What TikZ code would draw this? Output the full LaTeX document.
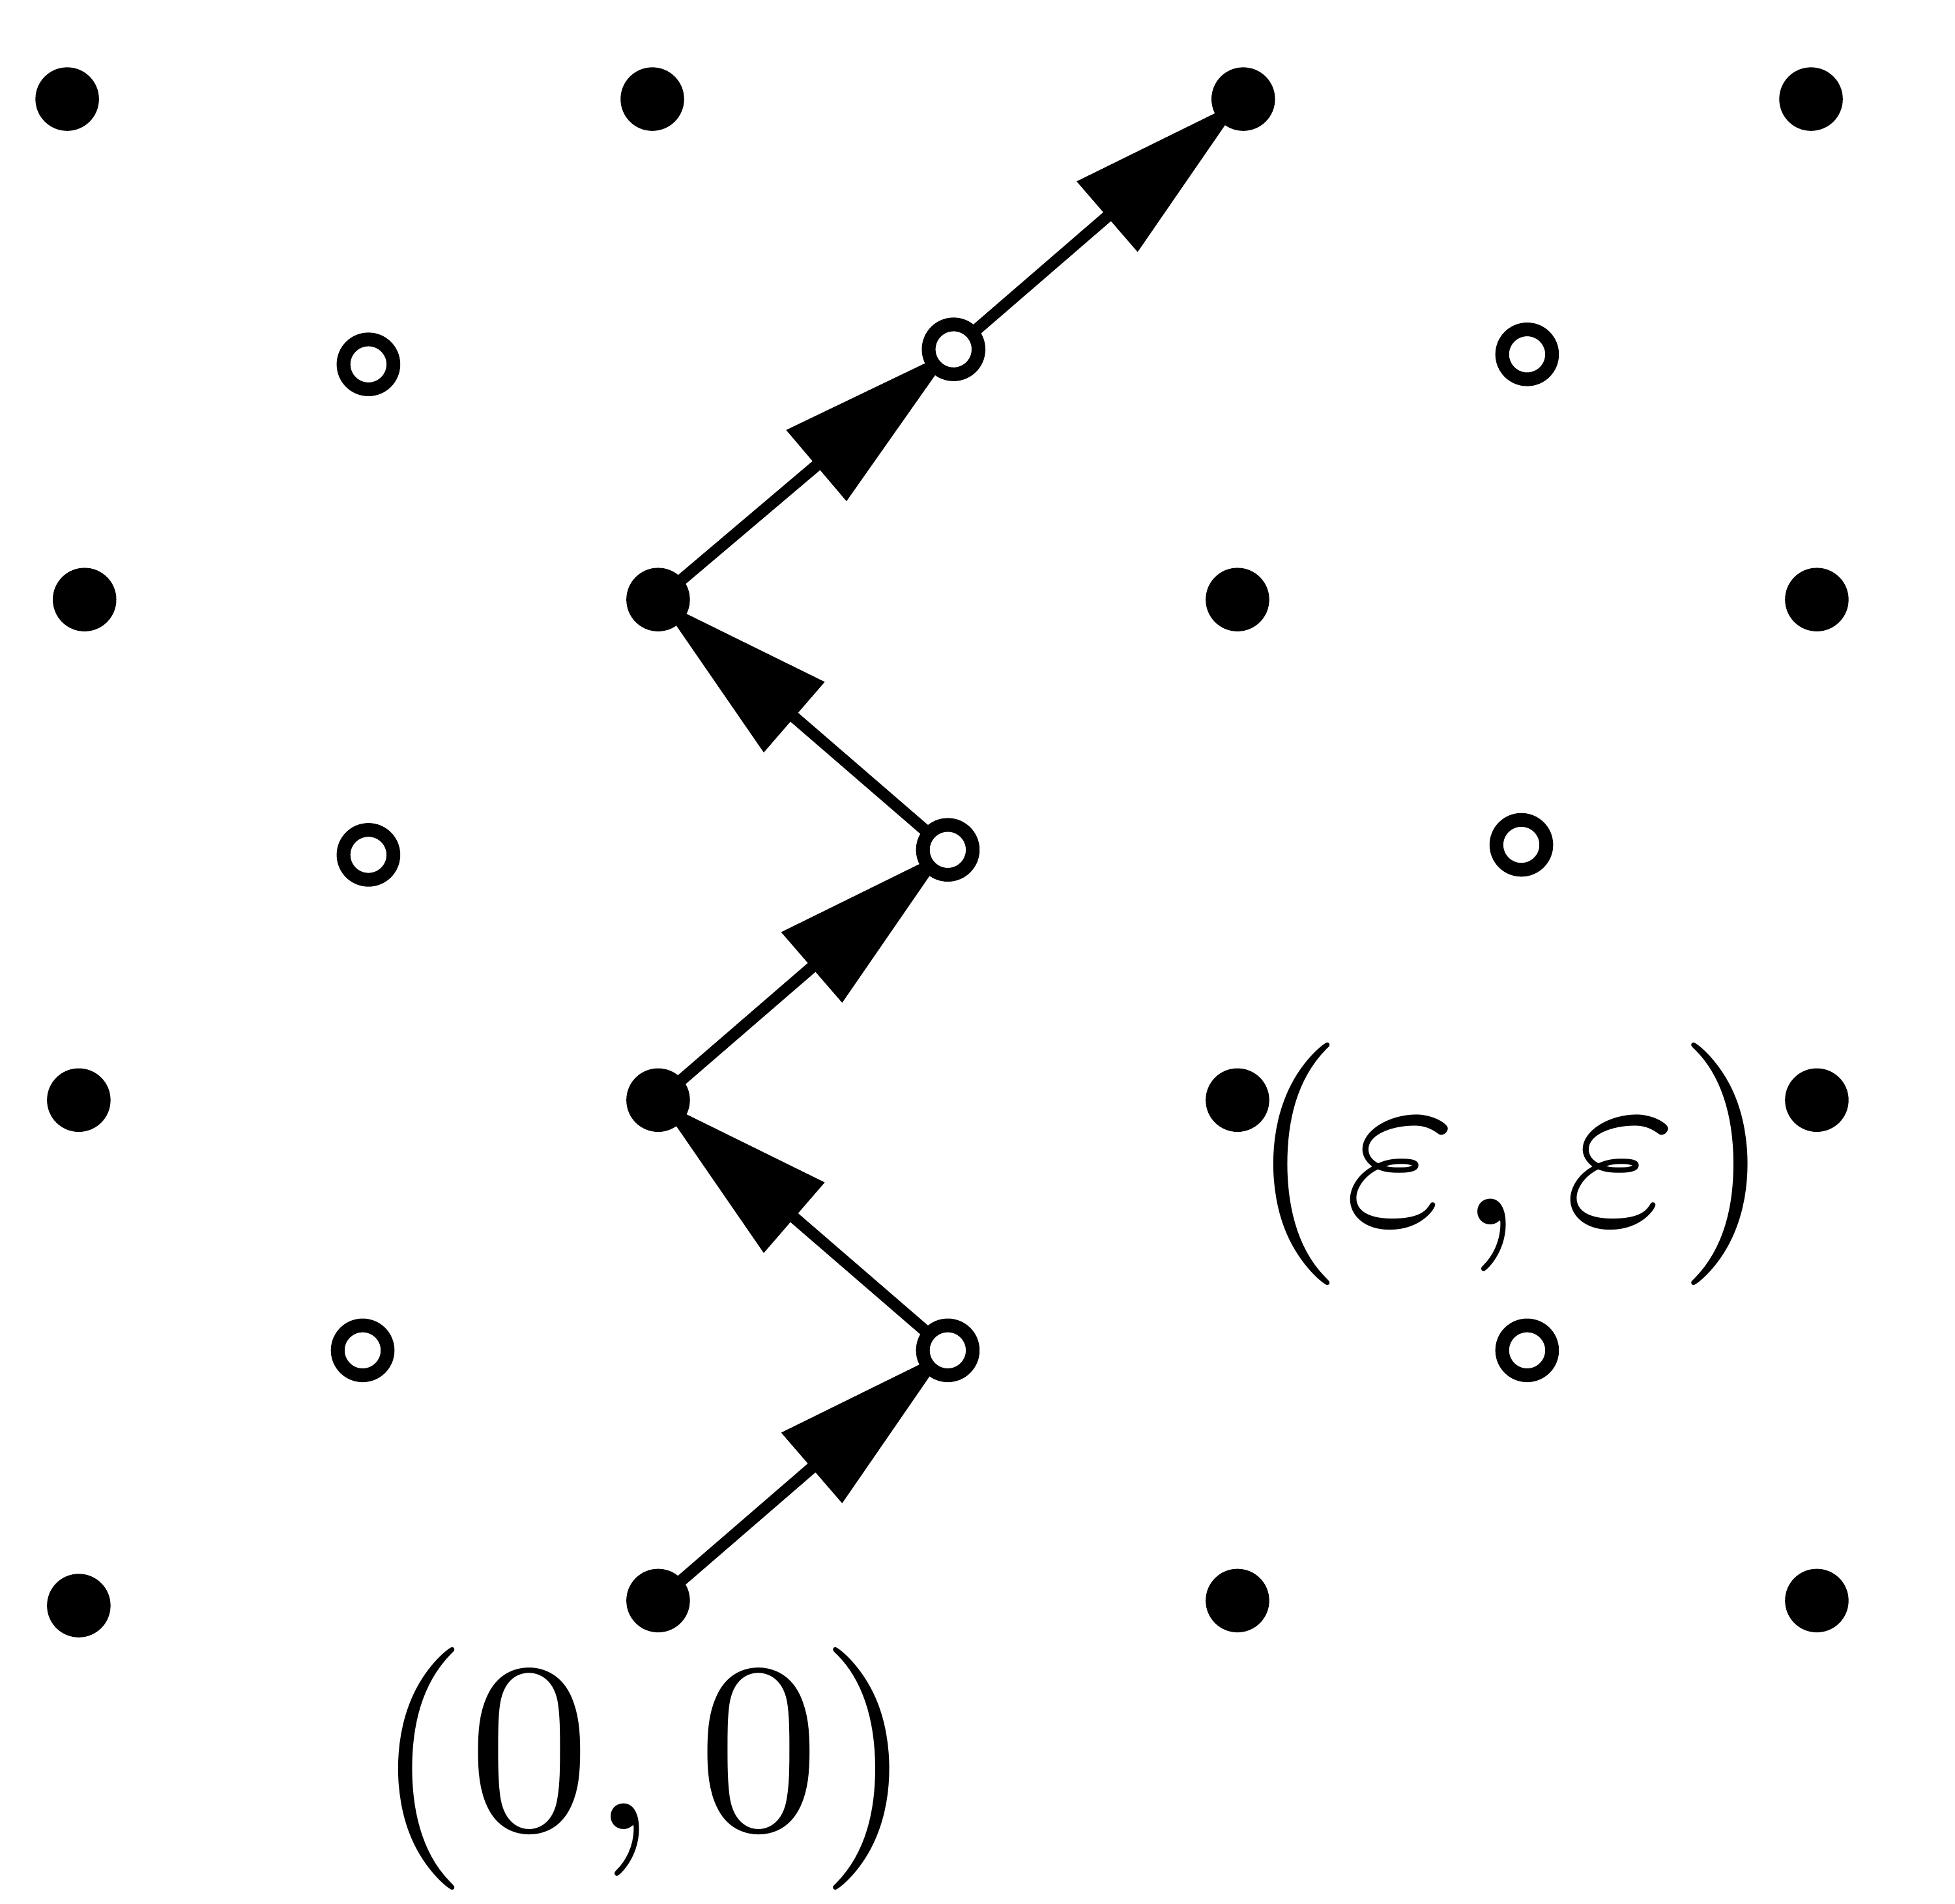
\documentclass[tikz,border=0pt]{standalone}
\usetikzlibrary{arrows.meta, backgrounds}
\tikzset{
	full/.style={circle, fill=black, inner sep=0pt, minimum size=0.325cm},
	hollow/.style={circle, draw=black, fill=white, line width=2pt, inner sep=0pt, minimum size=0.255cm},
	walk/.style={line width=1.7pt, -{Triangle[length=0.92cm, width=0.46cm]}}
}
\begin{document}
\begin{tikzpicture}[x=2.963cm, y=2.56cm]
	\useasboundingbox (-1.136,-0.6055) rectangle (2.2385,3.198);
%lattice
	\foreach \xy/\name in {{(-1.02,3)/a1},{(-0.01,3)/a2},{(1.01,3)/a3},{(1.99,3)/a4},
		{(-0.99,2)/b1},{(0,2)/b2},{(1,2)/b3},{(2,2)/b4},
		{(-1,1)/c1},{(0,1)/c2},{(1,1)/c3},{(2,1)/c4},
		{(-1,-0.01)/d1},{(0,0)/d2},{(1,0)/d3},{(2,0)/d4}} {
		\node[full] (\name) at \xy {};
	}
%half points
	\foreach \xy/\name in {{(-0.5,2.47)/u1},{(0.51,2.5)/u2},{(1.5,2.49)/u3},
		{(-0.5,1.49)/v1},{(0.5,1.5)/v2},{(1.49,1.51)/v3},
		{(-0.51,0.5)/w1},{(0.5,0.5)/w2},{(1.5,0.5)/w3}} {
		\node[hollow] (\name) at \xy {};
	}

	\node[scale=3.53, inner sep=0pt] (orig) at (-0.024,-0.336) {$(0,0)$};
	\node[scale=3.53, inner sep=0pt] (epsi) at (1.472,0.872) {$(\varepsilon,\varepsilon)$};

%path
	\begin{scope}[on background layer]
		\draw[walk] (d2.center) -- (w2.center);
		\draw[walk] (w2.center) -- (c2.center);
		\draw[walk] (c2.center) -- (v2.center);
		\draw[walk] (v2.center) -- (b2.center);
		\draw[walk] (b2.center) -- (u2.center);
		\draw[walk] (u2.center) -- (a3.center);
	\end{scope}
\end{tikzpicture}
\end{document}
